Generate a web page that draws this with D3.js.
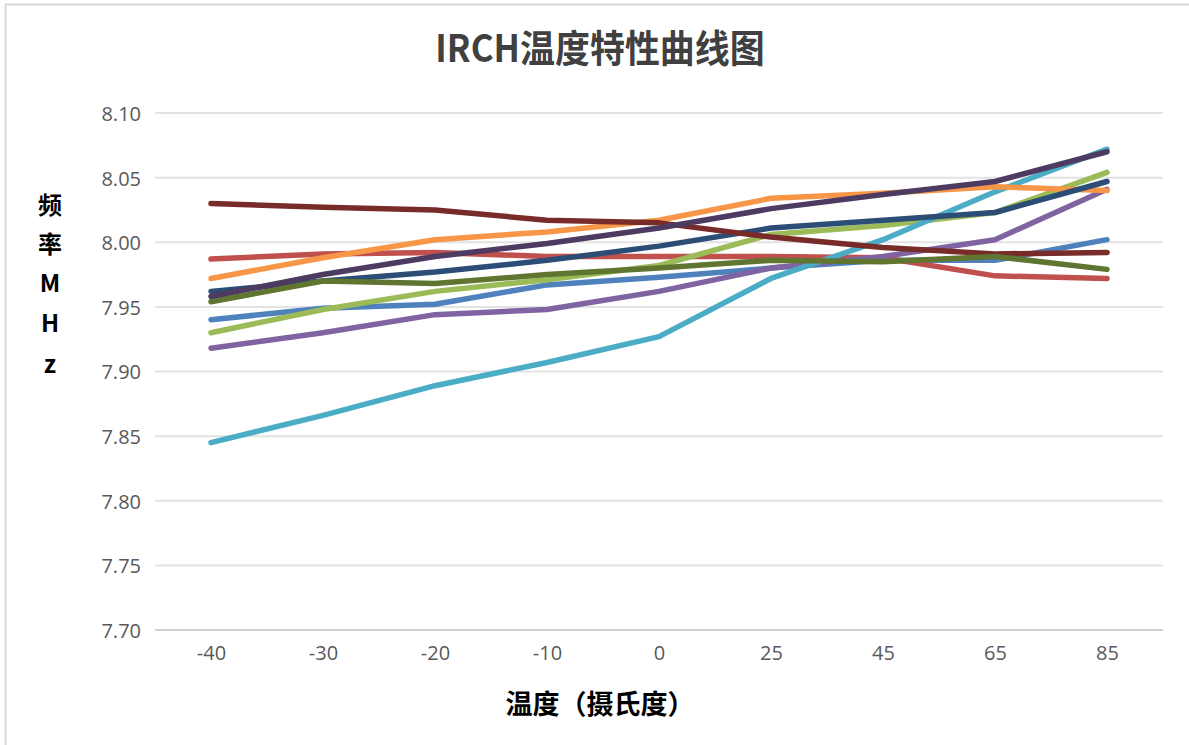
<!DOCTYPE html>
<html><head><meta charset="utf-8">
<script src="https://cdn.jsdelivr.net/npm/d3@7/dist/d3.min.js"></script>
<style>body{margin:0;background:#fff;} svg{display:block;}</style>
</head><body>
<svg id="c" width="1189" height="745"></svg>
<script>
const categories = ["-40","-30","-20","-10","0","25","45","65","85"];
const yTicks = [7.70,7.75,7.80,7.85,7.90,7.95,8.00,8.05,8.10];
const s1 = [7.940,7.949,7.952,7.967,7.973,7.980,7.986,7.986,8.002];
const s2 = [7.987,7.991,7.992,7.989,7.989,7.989,7.988,7.974,7.972];
const s3 = [7.930,7.948,7.962,7.971,7.982,8.006,8.013,8.023,8.054];
const s4 = [7.918,7.930,7.944,7.948,7.962,7.980,7.989,8.002,8.041];
const s5 = [7.845,7.866,7.889,7.907,7.927,7.972,8.002,8.039,8.072];
const s6 = [7.972,7.988,8.002,8.008,8.017,8.034,8.038,8.043,8.040];
const s7 = [7.962,7.970,7.977,7.986,7.997,8.011,8.017,8.023,8.047];
const s8 = [8.030,8.027,8.025,8.017,8.015,8.004,7.996,7.991,7.992];
const s9 = [7.954,7.970,7.968,7.975,7.980,7.986,7.985,7.989,7.979];
const s10 = [7.958,7.975,7.989,7.999,8.011,8.026,8.037,8.047,8.070];
const seriesList = [s1,s2,s3,s4,s5,s6,s7,s8,s9,s10];
const colors = ["#4F81BD","#C0504D","#9BBB59","#8064A2","#4BACC6","#F79646","#2C4D75","#772C2A","#5F7530","#4D3B62"];

const svg = d3.select("#c");
svg.append("rect").attr("x",5.5).attr("y",4.5).attr("width",1200).attr("height",800)
  .attr("fill","#fff").attr("stroke","#d9d9d9").attr("stroke-width",2);

const x = d3.scalePoint().domain(categories).range([155,1163]).padding(0.5);
const y = d3.scaleLinear().domain([7.70,8.10]).range([630,113]);

// grid
svg.append("g").selectAll("line").data(yTicks).join("line")
  .attr("x1",155).attr("x2",1163)
  .attr("y1",d=>y(d)).attr("y2",d=>y(d))
  .attr("stroke",(d,i)=> i===0 ? "#d0d0d0" : "#e3e3e3").attr("stroke-width",2);

// y axis labels
const yAxis = d3.axisLeft(y).tickValues(yTicks).tickFormat(d3.format(".2f")).tickSize(0).tickPadding(0);
const gy = svg.append("g").attr("transform","translate(141,1)").call(yAxis);
gy.select(".domain").remove();
gy.selectAll("text").attr("font-family","'Open Sans', sans-serif").attr("font-size",20).attr("fill","#595959");

// x axis labels
const xAxis = d3.axisBottom(x).tickSize(0).tickPadding(0);
const gx = svg.append("g").attr("transform","translate(0,646)").call(xAxis);
gx.select(".domain").remove();
gx.selectAll("text").attr("font-family","'Liberation Sans Narrow','Open Sans', sans-serif").attr("font-size",20).attr("fill","#595959");

// lines
const line = d3.line().x((d,i)=>x(categories[i])).y(d=>y(d));
svg.append("g").selectAll("path").data(seriesList).join("path")
  .attr("d",line).attr("fill","none")
  .attr("stroke",(d,i)=>colors[i]).attr("stroke-width",5.5)
  .attr("stroke-linecap","round").attr("stroke-linejoin","round");

// title
svg.append("text").attr("x",600).attr("y",62).attr("text-anchor","middle")
  .attr("font-family","'Noto Sans CJK SC', sans-serif").attr("font-weight","bold")
  .attr("font-size",38).attr("fill","#404040").attr("transform","translate(600,0) scale(0.92,1) translate(-600,0)")
  .text("IRCH温度特性曲线图");

// y title stacked
const yTitle = ["频","率","M","H","z"];
const yPos = [214,253,292,332,373];
svg.append("g").selectAll("text").data(yTitle).join("text")
  .attr("x",50).attr("y",(d,i)=>yPos[i]).attr("text-anchor","middle")
  .attr("font-family","'Noto Sans CJK SC', sans-serif").attr("font-weight","bold")
  .attr("font-size",24).attr("fill","#000").text(d=>d);

// x title
svg.append("text").attr("x",600).attr("y",714).attr("text-anchor","middle")
  .attr("font-family","'Noto Sans CJK SC', sans-serif").attr("font-weight","bold")
  .attr("font-size",27).attr("fill","#000").text("温度（摄氏度）");
</script>
</body></html>
